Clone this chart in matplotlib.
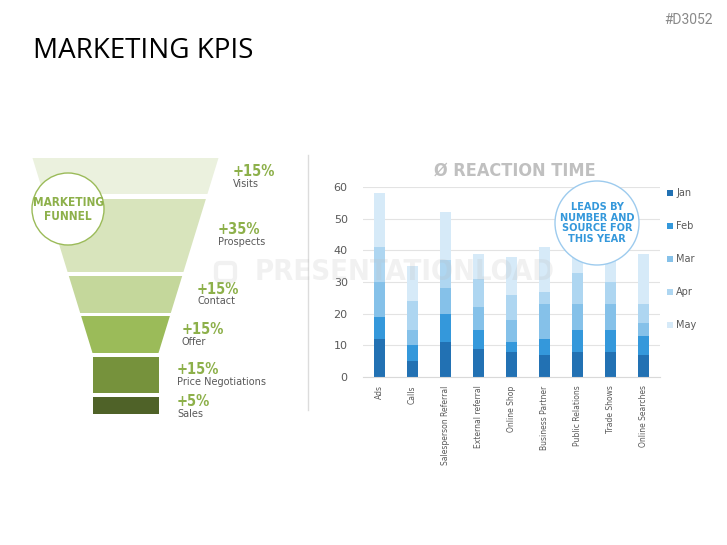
import matplotlib
matplotlib.use("Agg")
import matplotlib.pyplot as plt
import matplotlib.font_manager as fm
from matplotlib.patches import Polygon, Circle, Rectangle, FancyBboxPatch
import numpy as np

# ---------------- data ----------------
categories = ["Ads", "Calls", "Salesperson Referral", "External referral", "Online Shop",
              "Business Partner", "Public Relations", "Trade Shows", "Online Searches"]
months = ["Jan", "Feb", "Mar", "Apr", "May"]
jan = [12, 5, 11, 9, 8, 7, 8, 8, 7]
feb = [7, 5, 9, 6, 3, 5, 7, 7, 6]
mar = [11, 5, 8, 7, 7, 11, 8, 8, 4]
apr = [11, 9, 9, 9, 8, 4, 10, 7, 6]
may = [17, 11, 15, 8, 12, 14, 9, 11, 16]
series = [jan, feb, mar, apr, may]
yticks = [0, 10, 20, 30, 40, 50, 60]

funnel_stages = ["Visits", "Prospects", "Contact", "Offer", "Price Negotiations", "Sales"]
funnel_pct = ["+15%", "+35%", "+15%", "+15%", "+15%", "+5%"]

# ---------------- style ----------------
month_colors = ["#2271b3", "#3498db", "#85c1e9", "#aed6f1", "#d6eaf8"]
funnel_colors = ["#ebf1de", "#d8e4bc", "#c4d79b", "#9bbb59", "#76923c", "#4f6228"]
green_txt = "#8db04a"
blue_txt = "#3498db"
gray_txt = "#595959"


def find_condensed_bold():
    best = None
    best_score = -1
    for f in fm.fontManager.ttflist:
        fn = f.fname.lower()
        name = f.name.lower()
        txt = fn + " " + name + " " + str(f.stretch).lower()
        if not any(k in txt for k in ("condensed", "narrow")):
            continue
        w = f.weight if isinstance(f.weight, int) else 700 if "bold" in str(f.weight) else 400
        if "bold" in fn and "semibold" not in fn and "extrabold" not in fn:
            w = 700
        score = 0
        if "extracondensed" in fn.replace("-", "").replace(" ", "") or "extra-condensed" in txt:
            score += 1
        elif "semicondensed" in fn.replace("-", "").replace(" ", "") or "semi-condensed" in txt:
            score += 2
        else:
            score += 4
        if w == 700:
            score += 10
        elif w >= 600:
            score += 6
        if "italic" in fn or "oblique" in fn:
            score -= 20
        if "mono" in fn:
            score -= 20
        if score > best_score:
            best_score = score
            best = f.fname
    return best


_cond_path = find_condensed_bold()


def cond(size):
    if _cond_path:
        fp = fm.FontProperties(fname=_cond_path)
        fp.set_size(size)
    else:
        fp = fm.FontProperties(family=["Roboto", "DejaVu Sans"], weight="bold", size=size * 0.8)
    return fp


W, H = 727, 545
fig = plt.figure(figsize=(W / 100, H / 100), dpi=100)

bg = fig.add_axes([0, 0, 1, 1], zorder=0)
bg.set_xlim(0, W); bg.set_ylim(H, 0); bg.axis("off")

# titles
bg.text(33, 51, "MARKETING KPIS", fontsize=20, family="Open Sans", ha="left", va="center", color="black")
bg.text(713, 20.5, "#D3052", fontsize=10, family=["Roboto", "DejaVu Sans"], ha="right", va="center",
        color="#8a8a8a")

# funnel
seg_y = [(158, 194), (199, 272), (276, 313), (316, 353), (357, 393), (397, 414)]
cx = 125.5


def hw(y):
    return max(93 - 0.3077 * (y - 158), 33)


for i, (y0, y1) in enumerate(seg_y):
    poly = [(cx - hw(y0), y0), (cx + hw(y0), y0), (cx + hw(y1), y1), (cx - hw(y1), y1)]
    bg.add_patch(Polygon(poly, closed=True, fc=funnel_colors[i], ec="none"))

pct_x = [233, 218, 197, 182, 177, 177]
pct_y = [172, 230, 289, 330, 370, 402]
for i, stage in enumerate(funnel_stages):
    bg.text(pct_x[i], pct_y[i], funnel_pct[i], fontproperties=cond(10.5),
            color=green_txt, ha="left", va="center")
    bg.text(pct_x[i], pct_y[i] + 12, stage, fontsize=7, color=gray_txt, ha="left", va="center")

bg.add_patch(Circle((68, 209), 36, fc="white", ec="#9bbb59", lw=1, zorder=3))
bg.text(68, 209, "MARKETING\nFUNNEL", fontproperties=cond(8.5), color=green_txt,
        ha="center", va="center", linespacing=1.1, zorder=4)

# divider
bg.plot([308, 308], [155, 410], color="#dcdcdc", lw=1)

# chart title
bg.text(515, 171, "Ø REACTION TIME", fontproperties=cond(13), color="#c0c0c0",
        ha="center", va="center")

# ---------------- bar chart ----------------
ax = fig.add_axes([363 / W, 1 - 377 / H, (660 - 363) / W, (377 - 187) / H], zorder=1)
ax.patch.set_alpha(0)
x = np.arange(len(categories))
bottom = np.zeros(len(categories))
for s, c, m in zip(series, month_colors, months):
    ax.bar(x, s, 0.33, bottom=bottom, color=c, label=m, zorder=2)
    bottom += np.array(s)
ax.set_xlim(-0.5, 8.5)
ax.set_ylim(0, 60)
ax.set_yticks(yticks)
ax.grid(axis="y", color="#e3e3e3", lw=0.8, zorder=0)
ax.set_axisbelow(True)
for sp in ["top", "right", "left"]:
    ax.spines[sp].set_visible(False)
ax.spines["bottom"].set_color("#d9d9d9")
ax.tick_params(axis="y", length=0, labelsize=8, colors=gray_txt, pad=11)
ax.set_xticks(x)
ax.set_xticklabels(categories, rotation=90, fontsize=5.5, color=gray_txt)
ax.tick_params(axis="x", length=0, pad=6)

# ---------------- foreground ----------------
fg = fig.add_axes([0, 0, 1, 1], zorder=5)
fg.patch.set_alpha(0)
fg.set_xlim(0, W); fg.set_ylim(H, 0); fg.axis("off")

fg.add_patch(Circle((597, 223), 42, fc="white", ec="#9dcbee", lw=1))
fg.text(597, 223, "LEADS BY\nNUMBER AND\nSOURCE FOR\nTHIS YEAR", fontproperties=cond(7.8),
        color=blue_txt, ha="center", va="center", linespacing=1.1)

for i, m in enumerate(months):
    yy = 193 + 33 * i
    fg.add_patch(Rectangle((666.5, yy - 3), 6, 6, fc=month_colors[i], ec="none"))
    fg.text(676, yy, m, fontsize=7, color=gray_txt, ha="left", va="center")

# watermark
fg.add_patch(FancyBboxPatch((216, 263), 19, 18, boxstyle="round,pad=0,rounding_size=4",
                            fc="none", ec="#bbbbbb", lw=3, alpha=0.2))
fg.text(255, 272, "PRESENTATIONLOAD", fontproperties=cond(21), color="#bbbbbb",
        alpha=0.2, ha="left", va="center")

fig.savefig("out.png", dpi=100)
